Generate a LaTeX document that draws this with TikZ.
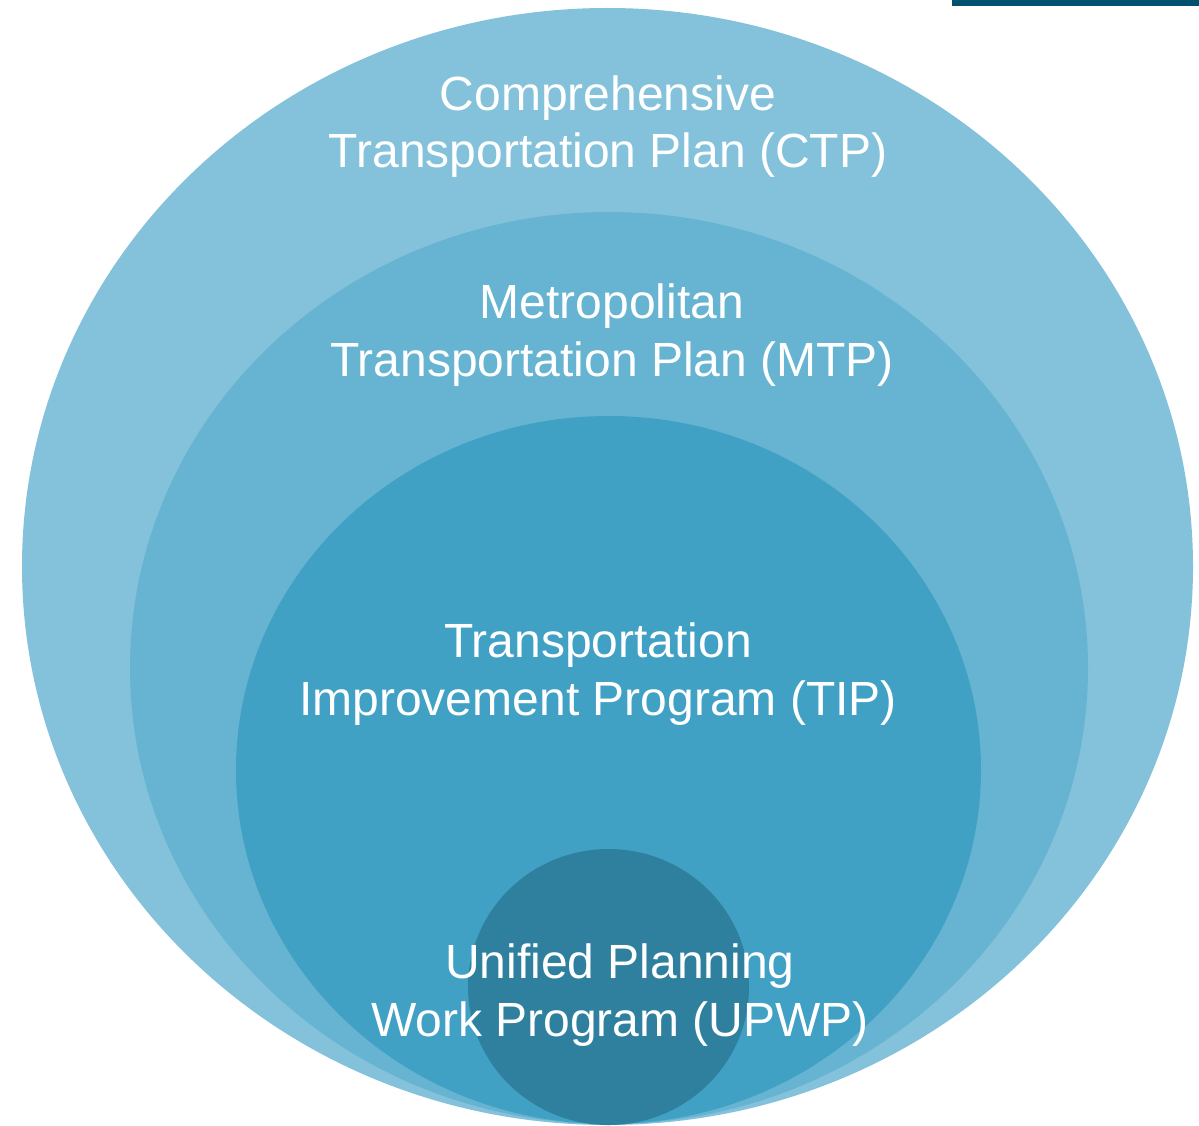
\documentclass[tikz,border=0pt]{standalone}
\usepackage{fontspec}
\setmainfont{Liberation Sans}
\usetikzlibrary{shapes.geometric}
\definecolor{ctpcol}{RGB}{131,194,218}
\definecolor{mtpcol}{RGB}{102,180,209}
\definecolor{tipcol}{RGB}{64,161,197}
\definecolor{upwpcol}{RGB}{47,128,158}
\definecolor{barcol}{RGB}{0,80,112}
\begin{document}
\begin{tikzpicture}[x=1pt,y=-1pt,
  ring/.style={ellipse,draw=none,inner sep=0pt,outer sep=0pt},
  lbl/.style={text=white,align=center,anchor=base,inner sep=0pt,
    font=\fontsize{48}{58}\selectfont}]
\useasboundingbox (0,0) rectangle (1199,1126);
\fill[white] (0,0) rectangle (1199,1126);
\fill[barcol] (952,0) rectangle (1199,6);
\node[ring,fill=ctpcol,minimum width=1171pt,minimum height=1117pt] (ctp) at (607.5,566.5) {};
\node[ring,fill=mtpcol,minimum width=958pt,minimum height=912pt] (mtp) at (609,668) {};
\node[ring,fill=tipcol,minimum width=745pt,minimum height=708pt] (tip) at (608.5,770) {};
\node[ring,fill=upwpcol,minimum width=281pt,minimum height=276pt] (upwp) at (608.5,987) {};
\node[lbl] (tctp) at (608,168) {Comprehensive\\Transportation Plan (CTP)};
\node[lbl] (tmtp) at (612,376) {Metropolitan\\Transportation Plan (MTP)};
\node[lbl] (ttip) at (598,715) {Transportation\\Improvement Program (TIP)};
\node[lbl] (tupwp) at (620,1036) {Unified Planning\\Work Program (UPWP)};
\end{tikzpicture}
\end{document}
